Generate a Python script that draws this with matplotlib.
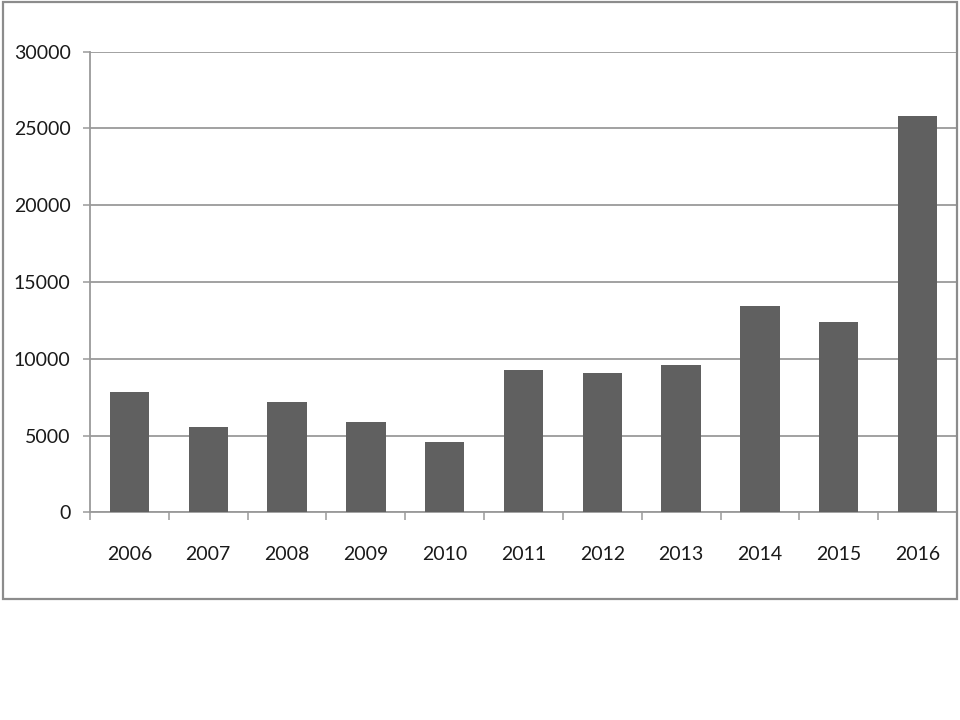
import matplotlib
matplotlib.use("Agg")
import matplotlib.pyplot as plt
from matplotlib.patches import Rectangle
import numpy as np

years = ["2006", "2007", "2008", "2009", "2010", "2011", "2012", "2013", "2014", "2015", "2016"]
values = [7850, 5550, 7200, 5900, 4600, 9250, 9050, 9600, 13450, 12400, 25800]
yticks = [0, 5000, 10000, 15000, 20000, 25000, 30000]

plt.rcParams['font.family'] = ['Lato', 'DejaVu Sans']

W, H = 960, 720
fig = plt.figure(figsize=(9.6, 7.2), dpi=100)
fig.patch.set_facecolor('white')

# outer frame
fig.add_artist(Rectangle((2.5 / W, 1 - 598.5 / H), (957 - 2.5) / W, (598.5 - 1.5) / H,
                         transform=fig.transFigure, fill=False, edgecolor='#8c8c8c', linewidth=1.6))

left, right, top, bottom = 90, 957, 51.7, 512.3
ax = fig.add_axes([left / W, 1 - bottom / H, (right - left) / W, (bottom - top) / H])

x = np.arange(len(years))
ax.bar(x, values, width=0.5, color='#606060', zorder=3)

ax.set_xlim(-0.5, len(years) - 0.5)
ax.set_ylim(0, 30000)
ax.set_yticks(yticks)
ax.set_yticklabels([str(v) for v in yticks])
ax.set_xticks(x)
ax.set_xticklabels(years)
ax.set_xticks(np.arange(-0.5, len(years), 1.0), minor=True)

ax.grid(axis='y', color='#9a9a9a', linewidth=1.3, zorder=0)
ax.set_axisbelow(True)

for s in ['top', 'right']:
    ax.spines[s].set_visible(False)
for s in ['left', 'bottom']:
    ax.spines[s].set_color('#9a9a9a')
    ax.spines[s].set_linewidth(1.3)

ax.tick_params(axis='y', length=5, width=1.1, color='#9a9a9a', pad=9, labelsize=14, labelcolor='#1a1a1a')
ax.tick_params(axis='x', which='major', length=0, pad=24, labelsize=14, labelcolor='#1a1a1a')
ax.tick_params(axis='x', which='minor', length=5.5, width=1.1, color='#9a9a9a')

fig.savefig('out.png', dpi=100, facecolor='white')
